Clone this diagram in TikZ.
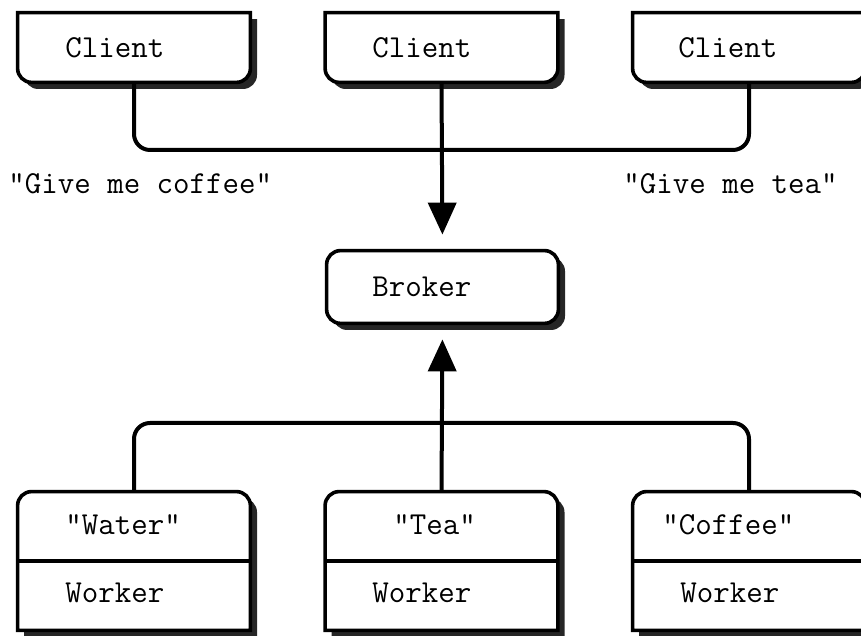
\documentclass[tikz,border=0pt]{standalone}
\usepackage{tikz}
\usetikzlibrary{arrows.meta,positioning,calc}
\def\boxr{7pt}
\tikzset{
  box/.style={draw=none,inner sep=0pt,minimum width=116pt,minimum height=34.5pt},
  workbox/.style={box,minimum height=69pt},
  brokerbox/.style={box,minimum width=115.5pt,minimum height=36pt},
  boxline/.style={draw=black,fill=white,line width=1.8pt},
  shadowfill/.style={fill=black!85,transform canvas={shift={(3.3pt,-3.3pt)}}},
  wire/.style={draw=black,line width=2pt,rounded corners=8pt},
  arrow/.style={wire,-{Triangle[length=16pt,width=14pt]},shorten >=8pt},
  lbl/.style={inner sep=0pt,anchor=base west,font=\ttfamily\fontsize{16}{19}\selectfont}
}
% square top, rounded bottom
\newcommand{\clientpath}[1]{(#1.north west) -- (#1.north east)
  -- ([yshift=\boxr]#1.south east) arc[start angle=0,end angle=-90,radius=\boxr]
  -- ([xshift=\boxr]#1.south west) arc[start angle=270,end angle=180,radius=\boxr] -- cycle}
% rounded top, square bottom
\newcommand{\workerpath}[1]{(#1.south west) -- (#1.south east)
  -- ([yshift=-\boxr]#1.north east) arc[start angle=0,end angle=90,radius=\boxr]
  -- ([xshift=\boxr]#1.north west) arc[start angle=90,end angle=180,radius=\boxr] -- cycle}
\newcommand{\brokerpath}[1]{[rounded corners=\boxr] (#1.south west) rectangle (#1.north east)}

\begin{document}
\begin{tikzpicture}[x=0.5pt,y=0.5pt]
  \useasboundingbox (0,0) rectangle (861,636);
  \clip (0,0) rectangle (861,636);

  % clients
  \node[box] (c1) at (134,588.5) {};
  \node[box] (c2) at (441.5,588.5) {};
  \node[box] (c3) at (749,588.5) {};
  % broker
  \node[brokerbox] (broker) at (442.5,349) {};
  % workers
  \node[workbox] (w1) at (134,75) {};
  \node[workbox] (w2) at (441.5,75) {};
  \node[workbox] (w3) at (749,75) {};

  \foreach \n in {c1,c2,c3} {
    \fill[shadowfill] \clientpath{\n};
    \path[boxline] \clientpath{\n};
  }
  \fill[shadowfill] \brokerpath{broker};
  \path[boxline] \brokerpath{broker};
  \foreach \n in {w1,w2,w3} {
    \fill[shadowfill] \workerpath{\n};
    \path[boxline] \workerpath{\n};
    \draw[line width=1.8pt] (\n.west) -- (\n.east);
  }

  % connectors
  \coordinate (bustop) at (441,486);
  \coordinate (busbot) at (441,213);
  \draw[wire] (c1.south) |- (bustop) -| (c3.south);
  \draw[arrow] (c2.south) -- (broker.north);
  \draw[wire] (w1.north) |- (busbot) -| (w3.north);
  \draw[arrow] (w2.north) -- (broker.south);

  % texts
  \node[lbl] (tc1) at (65,578) {Client};
  \node[lbl] (tc2) at (372,578) {Client};
  \node[lbl] (tc3) at (678,578) {Client};
  \node[lbl] (coffee) at (8,442) {"Give me coffee"};
  \node[lbl] (tea) at (623,442) {"Give me tea"};
  \node[lbl] (tb) at (372,339) {Broker};
  \node[lbl] (tw1) at (65,101) {"Water"};
  \node[lbl] (tw2) at (393,101) {"Tea"};
  \node[lbl] (tw3) at (662,101) {"Coffee"};
  \node[lbl] (k1) at (65,33) {Worker};
  \node[lbl] (k2) at (372,33) {Worker};
  \node[lbl] (k3) at (680,33) {Worker};
\end{tikzpicture}
\end{document}
